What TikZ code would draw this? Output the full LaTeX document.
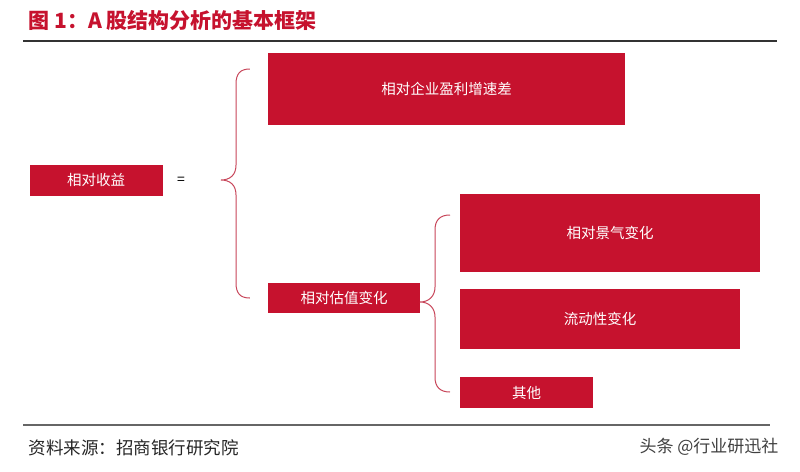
\documentclass[tikz,border=0pt]{standalone}
\usepackage{fontspec}
\setmainfont{Noto Sans CJK SC}
\usepackage{tikz}
\usetikzlibrary{positioning,calc}

\definecolor{zsred}{RGB}{198,18,46}
\definecolor{bracered}{RGB}{200,70,90}

\tikzset{
  redbox/.style={fill=zsred, text=white, inner sep=0pt, font=\fontsize{14.5}{16}\selectfont},
  bracepath/.style={draw=bracered, line width=1pt}
}

\begin{document}
\begin{tikzpicture}[x=1pt,y=-1pt]
  \useasboundingbox (0,0) rectangle (800,471);
  \fill[white] (0,0) rectangle (800,471);
  % 标题
  \node[anchor=west, text=zsred, font=\fontsize{21}{23}\selectfont\bfseries] (title) at (25,20) {图 1：A 股结构分析的基本框架};
  \draw[line width=1.6pt, black!80] (23,41) -- (777,41);

  \node[redbox, minimum width=133, minimum height=31] (rel) at (96,180) {相对收益};
  \node[font=\fontsize{14}{15}\selectfont] (eq) at (181,181) {=};

  \node[redbox, minimum width=357, minimum height=72] (earn) at (446.5,89) {相对企业盈利增速差};
  \node[redbox, minimum width=152, minimum height=30] (val) at (344,298) {相对估值变化};

  \node[redbox, minimum width=300, minimum height=78] (boom) at (610,233) {相对景气变化};
  \node[redbox, minimum width=280, minimum height=60] (liq) at (600,319) {流动性变化};
  \node[redbox, minimum width=133, minimum height=31] (other) at (526.5,392.5) {其他};

  % 大括号
  \coordinate (b1top) at ($(earn.west)+(-18,-20)$);
  \coordinate (b1bot) at ($(val.west)+(-18,0)$);
  \draw[bracepath] (b1top) .. controls (240,69) and (236,74) .. (236,84)
    -- (236,165) .. controls (236,175) and (230,180) .. (221,180)
    .. controls (230,180) and (236,185) .. (236,195)
    -- (236,283) .. controls (236,293) and (240,298) .. (b1bot);
  \coordinate (b2top) at (450,215);
  \coordinate (b2bot) at (450,392);
  \draw[bracepath] (b2top) .. controls (440,215) and (435,220) .. (435,230)
    -- (435,287) .. controls (435,296) and (429,302) .. (420,302)
    .. controls (429,302) and (435,308) .. (435,317)
    -- (435,377) .. controls (435,387) and (440,392) .. (b2bot);

  % 底部
  \draw[line width=1.6pt, black!60] (23,425) -- (770,425);
  \node[anchor=west, font=\fontsize{17.5}{19}\selectfont, text=black!85] (src) at (25,448) {资料来源：招商银行研究院};
  \node[anchor=east, font=\fontsize{17}{19}\selectfont, text=black!75] (mark) at (782,447) {头条 @行业研迅社};
\end{tikzpicture}
\end{document}
